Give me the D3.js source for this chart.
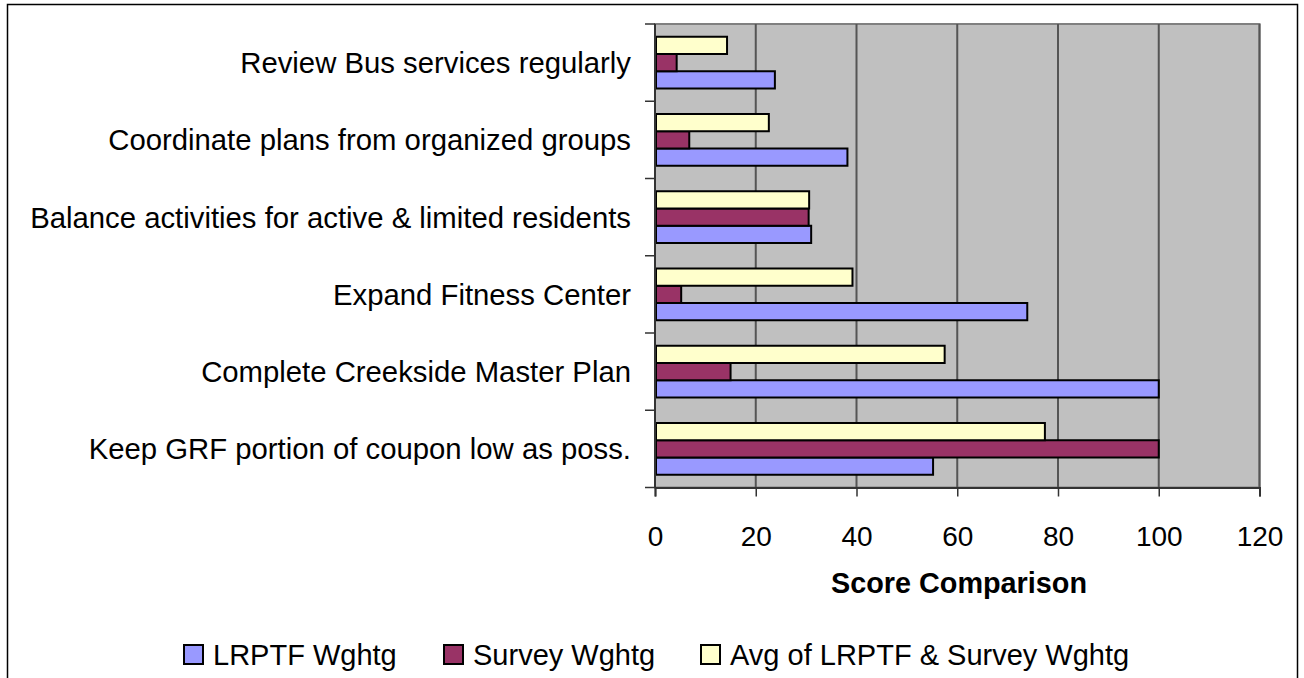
<!DOCTYPE html>
<html>
<head>
<meta charset="utf-8">
<style>
  body { margin: 0; background: #fff; }
  svg text { font-family: "Liberation Sans", Arial, sans-serif; fill: #000; }
</style>
<title>Score Comparison</title>
</head>
<body>
<svg id="chart" width="1304" height="678"></svg>
<script src="https://cdn.jsdelivr.net/npm/d3@7"></script>
<script>
// data
var categories = [
  "Review Bus services regularly",
  "Coordinate plans from organized groups",
  "Balance activities for active & limited residents",
  "Expand Fitness Center",
  "Complete Creekside Master Plan",
  "Keep GRF portion of coupon low as poss."
];
var seriesNames = ["LRPTF Wghtg", "Survey Wghtg", "Avg of LRPTF & Survey Wghtg"];
var lrptf  = [23.8, 38.2, 31.0, 73.9, 100, 55.2];
var survey = [4.3, 6.8, 30.5, 5.2, 15.0, 100];
var avg    = [14.3, 22.6, 30.6, 39.2, 57.5, 77.4];
var xTicks = [0, 20, 40, 60, 80, 100, 120];
var colors = ["#9999FF", "#993366", "#FFFFCC"];

var svg = d3.select("#chart");

// outer chart border
svg.append("rect")
  .attr("x", 7.5).attr("y", 4.5)
  .attr("width", 1290).attr("height", 700)
  .attr("fill", "none").attr("stroke", "#000").attr("stroke-width", 1.5);

var plot = {left: 655, right: 1259.5, top: 24, bottom: 487.5};

var x = d3.scaleLinear().domain([0, 120]).range([plot.left, plot.right]);
var y = d3.scaleBand().domain(categories)
  .range([plot.top, plot.bottom])
  .paddingInner(0.33).paddingOuter(0.165);
// within a group: avg on top, then survey, then lrptf
var ySub = d3.scaleBand().domain([2, 1, 0]).range([0, y.bandwidth()]);

// plot background
svg.append("rect")
  .attr("x", plot.left).attr("y", plot.top)
  .attr("width", plot.right - plot.left).attr("height", plot.bottom - plot.top)
  .attr("fill", "#C0C0C0").attr("stroke", "#808080").attr("stroke-width", 2);

// vertical gridlines
svg.append("g").selectAll("line")
  .data(xTicks.slice(1))
  .enter().append("line")
  .attr("x1", function (d) { return x(d); })
  .attr("x2", function (d) { return x(d); })
  .attr("y1", plot.top).attr("y2", plot.bottom)
  .attr("stroke", "#555").attr("stroke-width", 2);

// bars
var values = [lrptf, survey, avg];
var groups = svg.append("g").selectAll("g")
  .data(categories)
  .enter().append("g")
  .attr("transform", function (d) { return "translate(0," + y(d) + ")"; });

groups.selectAll("rect")
  .data(function (d, i) { return values.map(function (v, s) { return {s: s, v: v[i]}; }); })
  .enter().append("rect")
  .attr("x", x(0) + 1)
  .attr("y", function (d) { return ySub(d.s); })
  .attr("width", function (d) { return x(d.v) - x(0) - 1; })
  .attr("height", ySub.bandwidth())
  .attr("fill", function (d) { return colors[d.s]; })
  .attr("stroke", "#000").attr("stroke-width", 2);

// x axis
var xAxis = d3.axisBottom(x).tickValues(xTicks).tickSize(9).tickPadding(30);
var gx = svg.append("g")
  .attr("transform", "translate(0," + plot.bottom + ")")
  .call(xAxis);
gx.select(".domain").attr("stroke", "#333").attr("stroke-width", 2);
gx.selectAll(".tick line").attr("stroke", "#333").attr("stroke-width", 1.5);
gx.selectAll(".tick text")
  .style("font-family", "'Liberation Sans', Arial, sans-serif")
  .style("font-size", "28px");

// y axis: ticks at band boundaries
var step = y.step();
var bounds = d3.range(categories.length + 1).map(function (i) { return plot.top + i * step; });
svg.append("line")
  .attr("x1", plot.left).attr("x2", plot.left)
  .attr("y1", plot.top).attr("y2", plot.bottom)
  .attr("stroke", "#333").attr("stroke-width", 2);
svg.append("g").selectAll("line")
  .data(bounds)
  .enter().append("line")
  .attr("x1", plot.left - 10).attr("x2", plot.left)
  .attr("y1", function (d) { return d; }).attr("y2", function (d) { return d; })
  .attr("stroke", "#333").attr("stroke-width", 1.5);

svg.append("g").selectAll("text")
  .data(categories)
  .enter().append("text")
  .attr("x", 631)
  .attr("y", function (d) { return y(d) + y.bandwidth() / 2; })
  .attr("dy", "0.36em")
  .attr("text-anchor", "end")
  .style("font-size", "29.3px")
  .text(function (d) { return d; });

// axis title
svg.append("text")
  .attr("x", 959).attr("y", 593)
  .attr("text-anchor", "middle")
  .style("font-size", "28.8px").style("font-weight", "bold")
  .text("Score Comparison");

// legend
var legendX = [184, 444, 701];
var legend = svg.append("g").selectAll("g")
  .data(seriesNames)
  .enter().append("g")
  .attr("transform", function (d, i) { return "translate(" + legendX[i] + ",645)"; });
legend.append("rect")
  .attr("width", 19).attr("height", 19)
  .attr("fill", function (d, i) { return colors[i]; })
  .attr("stroke", "#000").attr("stroke-width", 2);
legend.append("text")
  .attr("x", 29).attr("y", 20)
  .style("font-size", "29px")
  .text(function (d) { return d; });
</script>
</body>
</html>
